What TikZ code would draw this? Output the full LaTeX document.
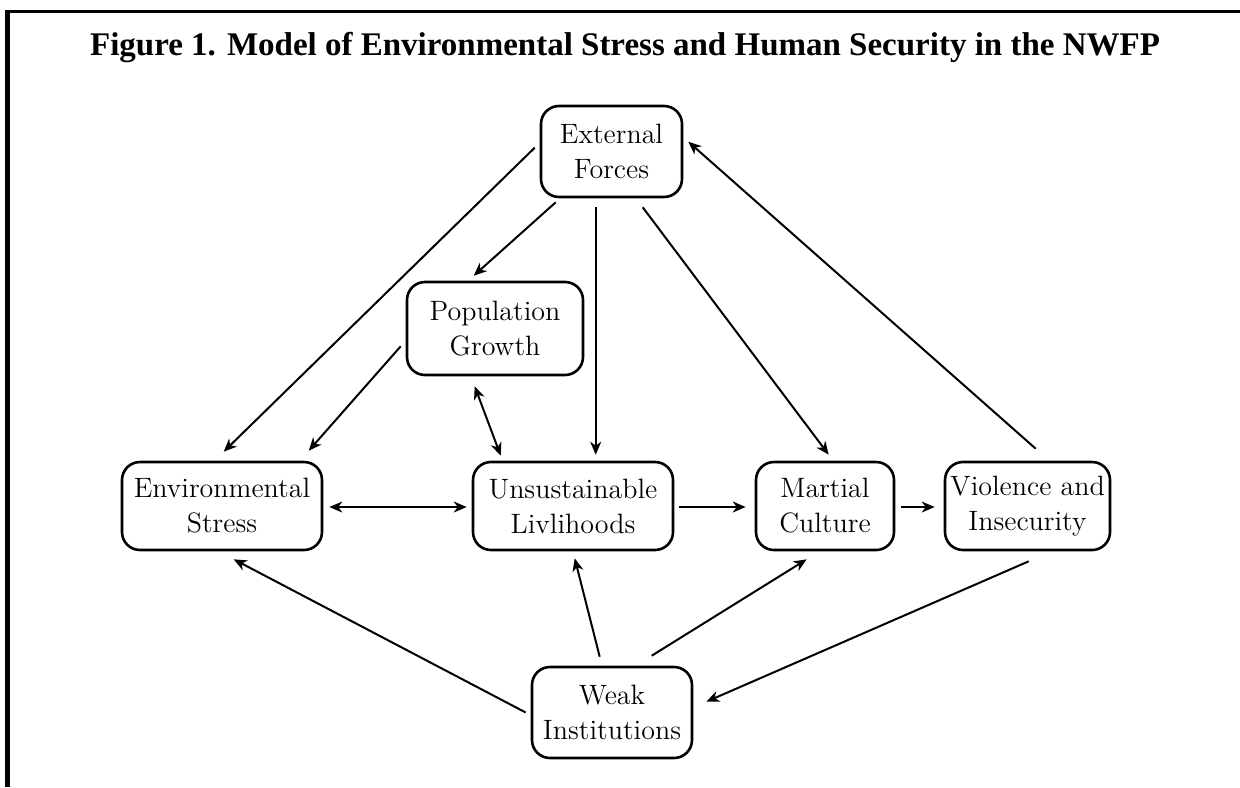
\documentclass[tikz,border=0pt]{standalone}
\usepackage{fontspec}
\newfontfamily\titlefont{Liberation Serif}
\usetikzlibrary{arrows.meta,calc}
\begin{document}
\begin{tikzpicture}[x=0.5pt,y=-0.5pt,
  box/.style={draw, line width=1.3pt, rounded corners=9pt, align=center, inner sep=0pt,
    font=\fontsize{14}{17.5}\selectfont},
  arr/.style={line width=1pt, -{Stealth[length=6.5pt,width=5.5pt,inset=2pt]}},
  darr/.style={line width=1pt, {Stealth[length=6.5pt,width=5.5pt,inset=2pt]}-{Stealth[length=6.5pt,width=5.5pt,inset=2pt]}},
  frameline/.style={line width=#1}]
\useasboundingbox (0,0) rectangle (1240,787);
\fill[white] (0,0) rectangle (1240,787);
\draw[frameline=2.5pt] (7.5,10) -- (7.5,787);
\draw[frameline=1.6pt] (5,11.5) -- (1240,11.5);
\node[anchor=base] (title) at (625,55) {\titlefont\bfseries\fontsize{16.5}{20}\selectfont Figure 1. Model of Environmental Stress and Human Security in the NWFP};

\node[box, minimum width=70.5pt, minimum height=45.5pt] (ext) at (611.5,151.5) {External\\Forces};
\node[box, minimum width=88pt, minimum height=46.5pt] (pop) at (495,328.5) {Population\\Growth};
\node[box, minimum width=100pt, minimum height=44pt] (env) at (222,506) {Environmental\\Stress};
\node[box, minimum width=100pt, minimum height=44pt] (uns) at (573,506) {Unsustainable\\Livlihoods};
\node[box, minimum width=69pt, minimum height=44pt] (mar) at (825,506) {Martial\\Culture};
\node[box, minimum width=82.5pt, minimum height=44pt] (vio) at (1027.5,506) {Violence and\\Insecurity};
\node[box, minimum width=80pt, minimum height=45.5pt] (weak) at (612,712.5) {Weak\\Institutions};

% from External Forces
\draw[arr] ($(ext.north west)+(-5,43)$) -- ($(env.north west)+(103,-9)$);
\draw[arr] ($(ext.south west)+(16,4)$) -- ($(pop.north west)+(68,-5)$);
\draw[arr] ($(ext.south west)+(56,9)$) -- ($(uns.north west)+(124,-6)$);
\draw[arr] ($(ext.south west)+(103,9)$) -- ($(mar.north west)+(74,-6)$);
% Violence -> External
\draw[arr] ($(vio.north west)+(92,-12)$) -- ($(ext.north east)+(5,37)$);
% Population
\draw[arr] ($(pop.south west)+(-5,-30)$) -- ($(env.north west)+(188,-10)$);
\draw[darr] ($(pop.south west)+(69,10)$) -- ($(uns.north west)+(29,-5)$);
% row
\draw[darr] ($(env.east)+(6,1)$) -- ($(uns.west)+(-5,1)$);
\draw[arr] ($(uns.east)+(5,1)$) -- ($(mar.west)+(-9,1)$);
\draw[arr] ($(mar.east)+(6,1)$) -- ($(vio.west)+(-9,1)$);
% Weak Institutions
\draw[arr] ($(weak.west)+(-5,0)$) -- ($(env.south west)+(113,8)$);
\draw[arr] ($(weak.north west)+(69,-9)$) -- ($(uns.south west)+(103,7)$);
\draw[arr] ($(weak.north west)+(121,-10)$) -- ($(mar.south west)+(52,8)$);
\draw[arr] ($(vio.south west)+(85,10)$) -- ($(weak.north east)+(13,36)$);
\end{tikzpicture}
\end{document}
